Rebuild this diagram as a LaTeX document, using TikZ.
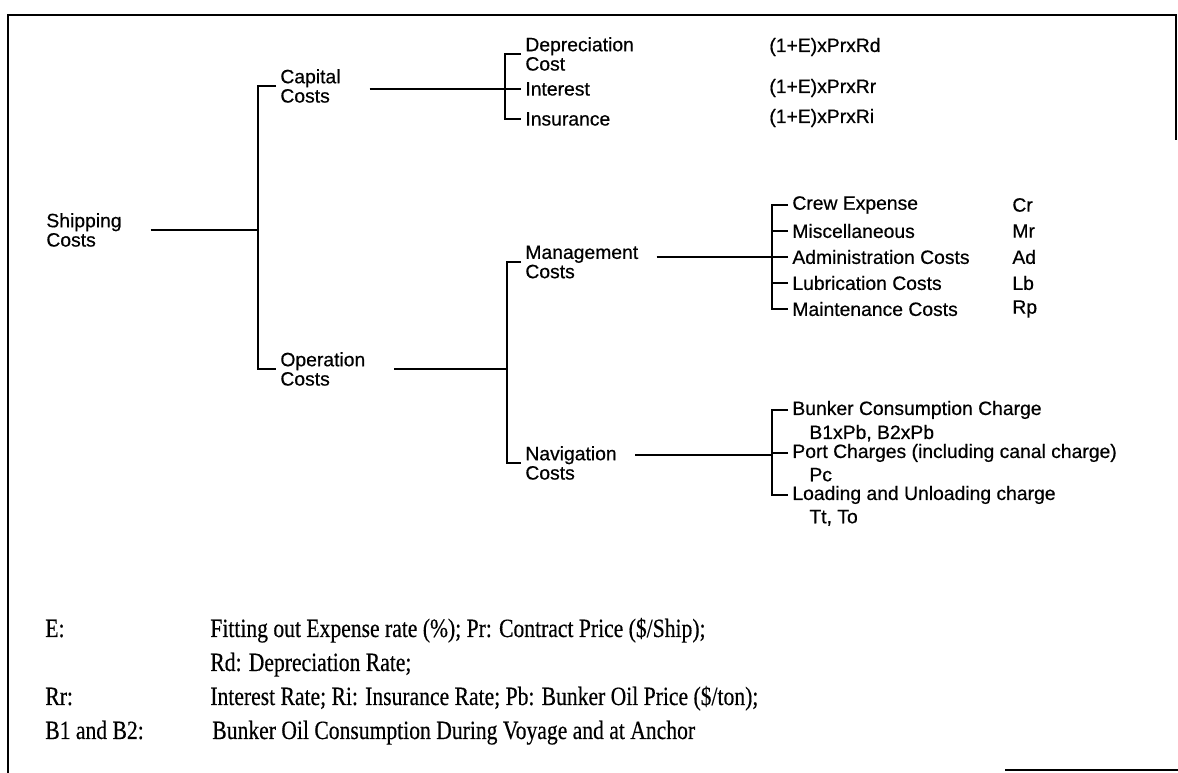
\documentclass[tikz,border=0pt]{standalone}
\usepackage{fontspec}
\setsansfont[FakeBold=0.5]{Liberation Sans}
\newfontfamily\legfont[FakeStretch=0.82,FakeBold=0.4]{Liberation Serif}
\usetikzlibrary{positioning}
\tikzset{
  lbl/.style={anchor=west, inner sep=0pt, outer xsep=2.5pt, align=left, font=\sffamily\fontsize{11}{11}\selectfont},
  sub/.style={inner sep=0pt, font=\sffamily\fontsize{11}{11}\selectfont},
  leg/.style={anchor=base west, inner sep=0pt, font=\legfont\fontsize{15}{17}\selectfont},
  brk/.style={line width=0.9pt},
  conn/.style={line width=0.6pt},
}
\begin{document}
\begin{tikzpicture}[x=0.02cm,y=-0.02cm]
\useasboundingbox (0,0) rectangle (1178,773);
% cadre
\draw[line width=0.8pt] (8,773) -- (8,15) -- (1176,15) -- (1176,140);
\draw[line width=0.8pt] (1005,770) -- (1178,770);

% premier niveau
\node[lbl] (ship) at (42,230) {Shipping\\Costs};
\node[lbl] (cap) at (276,86) {Capital\\Costs};
\node[lbl] (op) at (276,369) {Operation\\Costs};
\coordinate (b1) at (258,230);
\draw[line width=1.4pt] (cap.west) -| (b1) |- (op.west);
\draw[conn] ([xshift=14pt]ship.east) -- (b1);

% capital
\node[lbl] (dep) at (521,54) {Depreciation\\Cost};
\node[lbl] (int) at (521,89) {Interest};
\node[lbl] (ins) at (521,119) {Insurance};
\coordinate (b2) at (505,89);
\draw[brk] (dep.west) -| (b2) |- (ins.west);
\draw[brk] (int.west) -- (b2);
\draw[conn] ([xshift=14pt]cap.east |- b2) -- (b2);
\node[lbl] (frd) at (765,47) {(1+E)xPrxRd};
\node[lbl] (frr) at (765,88) {(1+E)xPrxRr};
\node[lbl] (fri) at (765,118) {(1+E)xPrxRi};

% operation
\node[lbl] (mgmt) at (521,262) {Management\\Costs};
\node[lbl] (nav) at (521,463) {Navigation\\Costs};
\coordinate (b3) at (507,369);
\draw[brk] (mgmt.west) -| (b3) |- (nav.west);
\draw[conn] ([xshift=14pt]op.east) -- (b3);

% management
\node[lbl] (crew) at (788,205) {Crew Expense};
\node[lbl] (misc) at (788,231) {Miscellaneous};
\node[lbl] (admin) at (788,257) {Administration Costs};
\node[lbl] (lub) at (788,283) {Lubrication Costs};
\node[lbl] (maint) at (788,309) {Maintenance Costs};
\coordinate (b4) at (772,257);
\draw[brk] (crew.west) -| (b4) |- (maint.west);
\foreach \n in {misc,admin,lub} \draw[brk] (\n.west) -- (\n.west -| b4);
\draw[conn] ([xshift=8pt]mgmt.east |- b4) -- (b4);
\path (1008,205) node[lbl] (vcr) {Cr}
      (1008,231) node[lbl] (vmr) {Mr}
      (1008,257) node[lbl] (vad) {Ad}
      (1008,283) node[lbl] (vlb) {Lb}
      (1008,309) node[lbl] (vrp) {Rp};

% navigation
\node[lbl] (bunk) at (788,410) {Bunker Consumption Charge};
\node[lbl] (port) at (788,453) {Port Charges (including canal charge)};
\node[lbl] (load) at (788,495) {Loading and Unloading charge};
\node[sub, below right=3pt and 12pt of bunk.south west] (bunkv) {B1xPb, B2xPb};
\node[sub, below right=3pt and 12pt of port.south west] (portv) {Pc};
\node[sub, below right=3pt and 12pt of load.south west] (loadv) {Tt, To};
\coordinate (b5) at (772,455);
\draw[brk] (bunk.west) -| (b5) |- (load.west);
\draw[brk] (port.west) -- (port.west -| b5);
\draw[conn] ([xshift=8pt]nav.east |- b5) -- (b5);

% legende
\node[leg] (le) at (45,637) {E:};
\node[leg] (lt1) at (210,637) {Fitting out Expense rate (\%); Pr: Contract Price (\$/Ship);};
\node[leg] (lt2) at (210,671) {Rd: Depreciation Rate;};
\node[leg] (lr) at (45,705) {Rr:};
\node[leg] (lt3) at (210,705) {Interest Rate; Ri: Insurance Rate; Pb: Bunker Oil Price (\$/ton);};
\node[leg] (lb) at (45,739) {B1 and B2:};
\node[leg] (lt4) at (212,739) {Bunker Oil Consumption During Voyage and at Anchor};
\end{tikzpicture}
\end{document}
